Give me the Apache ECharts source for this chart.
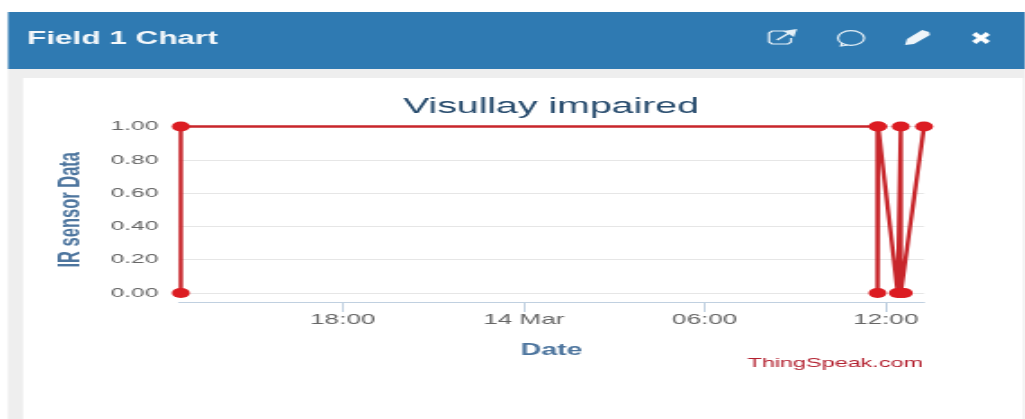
<!DOCTYPE html>
<html>
<head>
<meta charset="utf-8">
<title>Field 1 Chart</title>
<script src="https://cdn.jsdelivr.net/npm/echarts@6/dist/echarts.min.js"></script>
<style>
  html, body { margin: 0; padding: 0; width: 1025px; height: 419px; overflow: hidden; background: #fff; }
  /* the reference is a screenshot stretched sideways, so the whole chart is too */
  #chart { width: 570px; height: 419px; transform: scaleX(1.8); transform-origin: 0 0; }
</style>
</head>
<body>
<div id="chart"></div>
<script>
var panelTitle = 'Field 1 Chart';
var chartTitle = 'Visullay impaired';
var yName = 'IR sensor Data';
var xName = 'Date';
var credits = 'ThingSpeak.com';

// x is hours since 13 Mar 00:00
var xMin = 12.57;
var xMax = 37.27;
var tickHours = [18, 24, 30, 36];
var tickLabels = ['18:00', '14 Mar', '06:00', '12:00'];

var hours = [12.63, 12.63, 35.73, 35.73, 35.75, 36.4, 36.5, 36.5, 36.6, 37.27];
var values = [0, 1, 1, 0, 1, 0, 1, 0, 0, 1];

var SX = 1.8; // horizontal stretch of the page
function px(x) { return x / SX; }
// icon points are given in screen pixels
function pts(list) { return list.map(function (p) { return [px(p[0]), p[1]]; }); }

var chart = echarts.init(document.getElementById('chart'));

var iconStroke = { fill: 'none', stroke: '#e6f0f7', lineWidth: 1.2 };

var option = {
  animation: false,
  backgroundColor: '#ffffff',
  title: {
    text: chartTitle,
    left: px(542),
    top: 91,
    textAlign: 'center',
    textStyle: { color: '#274b6d', fontSize: 21.8, fontWeight: 'normal', fontFamily: 'Liberation Sans' }
  },
  grid: { left: px(179), right: 570 - px(924), top: 126.5, height: 166.5 },
  xAxis: {
    type: 'value',
    min: xMin,
    max: xMax,
    offset: 9,
    name: xName,
    nameLocation: 'middle',
    nameGap: 41,
    nameTextStyle: { color: '#4d759e', fontSize: 15.8, fontWeight: 'bold', fontFamily: 'Liberation Sans' },
    axisLine: { show: true, onZero: false, lineStyle: { color: '#c0d0e0', width: 1.2 } },
    axisTick: { show: true, length: 10, customValues: tickHours, lineStyle: { color: '#c0d0e0' } },
    axisLabel: {
      customValues: tickHours,
      margin: 10,
      color: '#666666',
      fontSize: 14.5,
      fontFamily: 'Liberation Sans',
      formatter: function (v) { return tickLabels[tickHours.indexOf(v)]; }
    },
    splitLine: { show: false }
  },
  yAxis: {
    type: 'value',
    min: 0,
    max: 1,
    interval: 0.2,
    name: yName,
    nameLocation: 'middle',
    nameGap: 51,
    nameTextStyle: { color: '#4d759e', fontSize: 16.5, fontWeight: 'bold', fontFamily: 'Liberation Sans' },
    axisLine: { show: false },
    axisTick: { show: false },
    axisLabel: {
      margin: 11.5,
      color: '#666666',
      fontSize: 13.6,
      fontFamily: 'Liberation Sans',
      formatter: function (v) { return v.toFixed(2); }
    },
    splitLine: { show: true, lineStyle: { color: '#e6e6e6', width: 1 } }
  },
  series: [{
    type: 'line',
    data: hours.map(function (h, i) { return [h, values[i]]; }),
    symbol: 'circle',
    symbolSize: 10,
    showAllSymbol: true,
    clip: false,
    itemStyle: { color: '#dc1c22' },
    lineStyle: { color: '#c8262b', width: 2.4 }
  }],
  graphic: [
    { type: 'rect', silent: true, z: -10, shape: { x: px(8), y: 68, width: px(1017), height: 351 }, style: { fill: '#eeeeee' } },
    { type: 'rect', silent: true, z: -9, shape: { x: px(23), y: 78, width: px(1000), height: 341 }, style: { fill: '#ffffff' } },
    { type: 'rect', silent: true, z: -8, shape: { x: px(8), y: 12, width: px(1017), height: 57 }, style: { fill: '#2f7ab2' } },
    {
      type: 'text', x: px(27), y: 39, z: 5,
      style: { text: panelTitle, fill: '#f4f8fb', font: 'bold 17.5px "Liberation Sans"', textAlign: 'left', textVerticalAlign: 'middle' }
    },
    {
      type: 'text', x: px(923), y: 363, z: 5,
      style: { text: credits, fill: '#b3202f', font: '13px "Liberation Sans"', textAlign: 'right', textVerticalAlign: 'middle' }
    },
    // toolbar icons: external link, comment, pencil, close
    { type: 'polyline', z: 5, style: iconStroke, shape: { points: pts([[785, 31], [772, 31], [769, 33], [769, 42], [772, 44], [788, 44], [791, 42], [791, 38]]) } },
    { type: 'polyline', z: 5, style: { fill: 'none', stroke: '#e6f0f7', lineWidth: 1.4 }, shape: { points: pts([[777, 40], [791, 32]]) } },
    { type: 'polygon', z: 5, style: { fill: '#e6f0f7' }, shape: { points: pts([[783, 31], [797, 29], [794, 37]]) } },
    { type: 'circle', z: 5, style: iconStroke, shape: { cx: px(851), cy: 38, r: 7.3 } },
    { type: 'polyline', z: 5, style: iconStroke, shape: { points: pts([[842, 43], [841, 46], [848, 45]]) } },
    { type: 'polygon', z: 5, style: { fill: '#eef5fa' }, shape: { points: pts([[905, 45], [907, 39], [922, 30], [929, 32], [930, 35], [914, 44]]) } },
    { type: 'polygon', z: 5, style: { fill: '#ffffff' }, shape: { points: pts([[972, 35], [976, 32], [981, 35.5], [986, 32], [990, 35], [985, 38], [990, 41], [986, 44], [981, 40.5], [976, 44], [972, 41], [977, 38]]) } }
  ]
};

option && chart.setOption(option);
</script>
</body>
</html>
